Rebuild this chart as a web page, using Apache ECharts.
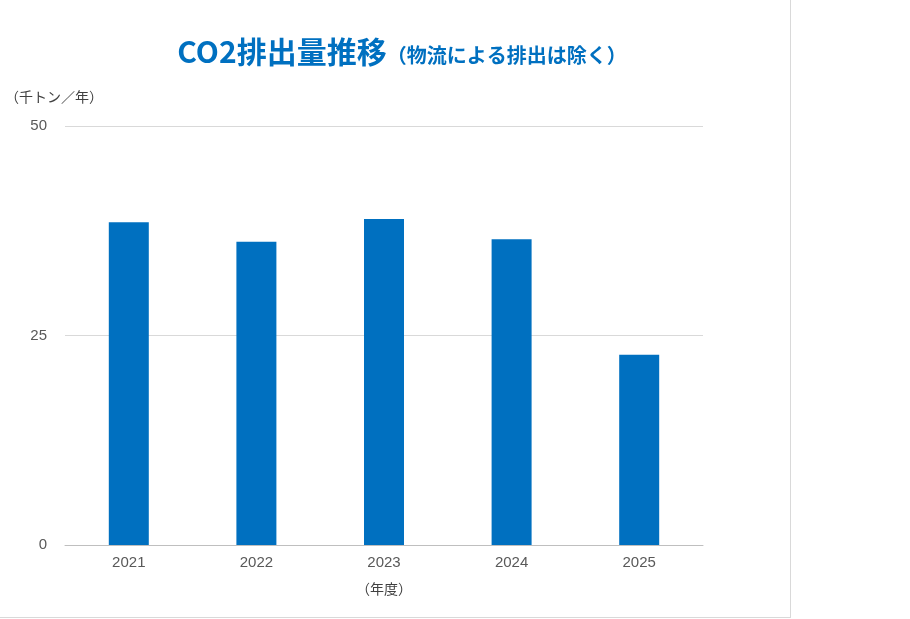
<!DOCTYPE html>
<html><head><meta charset="utf-8">
<script src="https://cdn.jsdelivr.net/npm/echarts@6/dist/echarts.min.js"></script>
<style>html,body{margin:0;padding:0;background:#fff}
#frame{position:absolute;left:0;top:0;width:790px;height:617px;border-right:1px solid #d9d9d9;border-bottom:1px solid #d9d9d9}
#c{position:absolute;left:0;top:0;width:910px;height:619px}</style>
</head><body><div id="frame"></div><div id="c"></div>
<script>
const categories = ['2021','2022','2023','2024','2025'];
const values = [38.5, 36.2, 38.9, 36.5, 22.7];
const yTicks = [0, 25, 50];
const chart = echarts.init(document.getElementById('c'));
chart.setOption({
  title: {
    text: '{a|CO2排出量推移}{b|（物流による排出は除く）}',
    left: 397, top: 32, textAlign: 'center',
    textStyle: { rich: {
      a: { fontSize: 30, fontWeight: 'bold', color: '#0070c0', fontFamily: 'Noto Sans CJK JP' },
      b: { fontSize: 20, fontWeight: 'bold', color: '#0070c0', fontFamily: 'Noto Sans CJK JP', padding:[6,0,0,0] }
    } }
  },
  grid: { left: 65, right: 207, top: 126, bottom: 74 },
  xAxis: {
    type: 'category', data: categories,
    name: '（年度）', nameLocation: 'middle', nameGap: 37,
    nameTextStyle: { color: '#404040', fontSize: 14, fontFamily: 'Noto Sans CJK JP' },
    axisLine: { lineStyle: { color: '#bfbfbf' } }, axisTick: { show: false },
    axisLabel: { color: '#595959', fontSize: 15, margin: 10 }
  },
  yAxis: {
    type: 'value', min: 0, max: 50, interval: 25,
    name: '（千トン／年）', nameLocation: 'end', nameGap: 22,
    nameTextStyle: { color: '#404040', fontSize: 14, align: 'left', padding: [0,0,0,-60], fontFamily: 'Noto Sans CJK JP' },
    axisLabel: { color: '#595959', fontSize: 15, margin: 18,
      formatter: v => yTicks.includes(v) ? String(v) : '' },
    splitLine: { lineStyle: { color: '#d9d9d9' } }
  },
  series: [{ type: 'bar', data: values, barWidth: 40, itemStyle: { color: '#0070c0' } }]
});
</script></body></html>
